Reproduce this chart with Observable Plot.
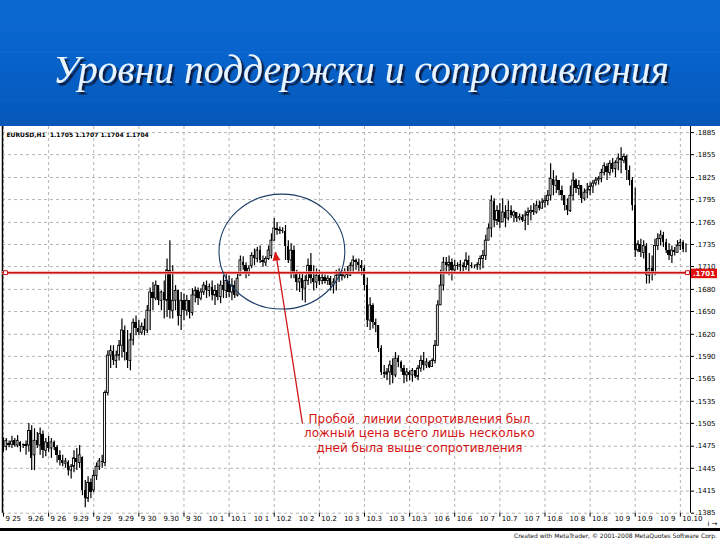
<!DOCTYPE html>
<html><head><meta charset="utf-8">
<script src="https://cdn.jsdelivr.net/npm/d3@7"></script>
<script src="https://cdn.jsdelivr.net/npm/@observablehq/plot@0.6"></script>
<style>
html,body{margin:0;padding:0;background:#fff;}
#wrap{width:720px;height:540px;position:relative;overflow:hidden;font-family:"DejaVu Sans",sans-serif;}
#header{height:126px;background:linear-gradient(180deg,#0a69d0 0%,#0763cb 45%,#0557b8 100%);}
#chart{height:402px;background:#fff;}
#footer{height:9px;border-top:3px solid #000;background:#fff;font-size:6px;line-height:9px;text-align:right;padding-right:3px;color:#111;}
</style></head>
<body>
<div id="wrap">
  <div id="header"></div>
  <div id="chart"></div>
  <div id="footer"></div>
</div>
<script>
const titleText = "Уровни поддержки и сопротивления";
const footerText = "Created with MetaTrader, © 2001-2008 MetaQuotes Software Corp.";
const infoText = "EURUSD,H1  1.1705 1.1707 1.1704 1.1704";
const noteLines = ["Пробой  линии сопротивления был", "ложный цена всего лишь несколько", "дней была выше сопротивления"];

const xLabels = ["9 25","9.26","9 26","9.29","9 29","9.29","9 30","9.30","9 30","10 1","10.1","10 1","10.2","10 2","10.2","10 3","10.3","10 3","10.3","10 6","10.6","10 7","10.7","10 7","10.8","10 8","10.8","10 9","10.9","10 9","10.10"];
const yTickValues = [1.1385,1.1414,1.1444,1.1473,1.1503,1.1532,1.1562,1.1591,1.1620,1.1650,1.1679,1.1709,1.1738,1.1767,1.1797,1.1826,1.1856,1.1885];
const yTickLabels = [".1385",".1415",".1445",".1475",".1505",".1535",".1565",".1590",".1620",".1650",".1680",".1710",".1735",".1765",".1795",".1825",".1855",".1885"];
const supportLevel = 1.1701;
const supportLabel = ".1701";
const ellipseCenter = [98.9, 1.1728];
const ellipseRadii = [22.3, 0.00755];
const arrowFrom = [106.0, 1.1503];
const arrowTo = [96.5, 1.1728];
const notePos = [147.5, 1.1491];

const open = [
1.1479,1.1472,1.1476,1.1475,1.1480,1.1474,1.1478,1.1475,1.1475,1.1474,1.1493,1.1461,1.1480,1.1474,1.1489,1.1467,
1.1478,1.1470,1.1478,1.1471,1.1461,1.1454,1.1450,1.1451,1.1441,1.1446,1.1457,1.1451,1.1458,1.1415,1.1404,1.1425,
1.1415,1.1434,1.1446,1.1453,1.1451,1.1543,1.1592,1.1598,1.1585,1.1592,1.1605,1.1625,1.1596,1.1585,1.1612,1.1635,
1.1627,1.1622,1.1630,1.1625,1.1651,1.1675,1.1667,1.1684,1.1664,1.1675,1.1664,1.1704,1.1651,1.1664,1.1677,1.1644,
1.1664,1.1651,1.1664,1.1648,1.1671,1.1677,1.1667,1.1675,1.1684,1.1677,1.1682,1.1671,1.1677,1.1669,1.1684,1.1677,
1.1690,1.1675,1.1684,1.1671,1.1697,1.1714,1.1710,1.1701,1.1710,1.1723,1.1719,1.1730,1.1717,1.1714,1.1719,1.1723,
1.1743,1.1759,1.1756,1.1757,1.1755,1.1736,1.1717,1.1730,1.1700,1.1688,1.1693,1.1680,1.1690,1.1710,1.1693,1.1688,
1.1697,1.1690,1.1694,1.1690,1.1693,1.1684,1.1688,1.1697,1.1701,1.1696,1.1701,1.1697,1.1710,1.1717,1.1714,1.1710,
1.1706,1.1684,1.1638,1.1658,1.1635,1.1631,1.1601,1.1570,1.1567,1.1570,1.1579,1.1566,1.1588,1.1583,1.1575,1.1566,
1.1570,1.1566,1.1572,1.1564,1.1575,1.1585,1.1579,1.1583,1.1577,1.1585,1.1605,1.1658,1.1684,1.1714,1.1710,1.1714,
1.1704,1.1710,1.1709,1.1711,1.1708,1.1717,1.1710,1.1709,1.1709,1.1711,1.1719,1.1723,1.1743,1.1759,1.1795,1.1769,
1.1782,1.1767,1.1780,1.1772,1.1782,1.1776,1.1780,1.1772,1.1774,1.1769,1.1776,1.1780,1.1782,1.1780,1.1789,1.1785,
1.1793,1.1795,1.1802,1.1824,1.1815,1.1822,1.1809,1.1802,1.1789,1.1782,1.1802,1.1822,1.1811,1.1815,1.1798,1.1806,
1.1809,1.1814,1.1818,1.1822,1.1824,1.1832,1.1841,1.1832,1.1844,1.1837,1.1845,1.1851,1.1848,1.1853,1.1835,1.1822,
1.1789,1.1730,1.1738,1.1727,1.1736,1.1697,1.1706,1.1701,1.1736,1.1745,1.1750,1.1740,1.1730,1.1723,1.1730,1.1727,
1.1736,1.1740,1.1732];
const high = [
1.1484,1.1483,1.1480,1.1486,1.1483,1.1487,1.1479,1.1476,1.1480,1.1503,1.1500,1.1496,1.1491,1.1497,1.1493,1.1483,
1.1486,1.1483,1.1480,1.1474,1.1467,1.1461,1.1457,1.1454,1.1449,1.1467,1.1470,1.1474,1.1459,1.1428,1.1433,1.1430,
1.1441,1.1451,1.1457,1.1461,1.1546,1.1598,1.1605,1.1605,1.1598,1.1612,1.1640,1.1631,1.1625,1.1621,1.1640,1.1644,
1.1638,1.1635,1.1640,1.1658,1.1681,1.1688,1.1690,1.1684,1.1677,1.1690,1.1719,1.1743,1.1710,1.1684,1.1677,1.1675,
1.1673,1.1671,1.1664,1.1680,1.1682,1.1681,1.1680,1.1688,1.1690,1.1686,1.1690,1.1684,1.1686,1.1690,1.1697,1.1700,
1.1697,1.1693,1.1690,1.1701,1.1723,1.1722,1.1714,1.1710,1.1727,1.1732,1.1734,1.1736,1.1723,1.1722,1.1736,1.1752,
1.1772,1.1767,1.1761,1.1760,1.1763,1.1743,1.1739,1.1736,1.1704,1.1701,1.1700,1.1697,1.1719,1.1726,1.1710,1.1706,
1.1704,1.1700,1.1698,1.1697,1.1696,1.1693,1.1704,1.1706,1.1704,1.1706,1.1709,1.1714,1.1723,1.1719,1.1719,1.1717,
1.1710,1.1694,1.1668,1.1660,1.1640,1.1631,1.1605,1.1579,1.1575,1.1585,1.1588,1.1596,1.1592,1.1585,1.1579,1.1575,
1.1572,1.1575,1.1572,1.1579,1.1592,1.1596,1.1588,1.1585,1.1588,1.1612,1.1664,1.1704,1.1721,1.1721,1.1723,1.1719,
1.1717,1.1714,1.1717,1.1714,1.1727,1.1723,1.1714,1.1711,1.1714,1.1723,1.1730,1.1750,1.1765,1.1802,1.1798,1.1789,
1.1792,1.1798,1.1789,1.1795,1.1789,1.1782,1.1780,1.1778,1.1777,1.1782,1.1786,1.1789,1.1792,1.1795,1.1795,1.1798,
1.1802,1.1809,1.1844,1.1835,1.1828,1.1822,1.1815,1.1802,1.1798,1.1815,1.1832,1.1824,1.1822,1.1815,1.1811,1.1818,
1.1819,1.1822,1.1826,1.1827,1.1837,1.1845,1.1844,1.1848,1.1851,1.1848,1.1857,1.1865,1.1857,1.1855,1.1841,1.1826,
1.1812,1.1743,1.1745,1.1743,1.1739,1.1726,1.1723,1.1745,1.1752,1.1756,1.1754,1.1745,1.1739,1.1736,1.1734,1.1743,
1.1745,1.1743,1.1739];
const low = [
1.1465,1.1467,1.1471,1.1470,1.1472,1.1471,1.1465,1.1470,1.1461,1.1465,1.1441,1.1441,1.1470,1.1461,1.1457,1.1459,
1.1465,1.1457,1.1467,1.1451,1.1447,1.1446,1.1444,1.1434,1.1430,1.1438,1.1441,1.1444,1.1408,1.1392,1.1399,1.1404,
1.1412,1.1428,1.1441,1.1444,1.1446,1.1539,1.1575,1.1579,1.1575,1.1585,1.1589,1.1585,1.1575,1.1572,1.1605,1.1618,
1.1618,1.1619,1.1618,1.1621,1.1625,1.1651,1.1664,1.1658,1.1651,1.1640,1.1642,1.1640,1.1640,1.1651,1.1631,1.1625,
1.1638,1.1644,1.1640,1.1644,1.1661,1.1658,1.1664,1.1671,1.1667,1.1669,1.1664,1.1658,1.1664,1.1660,1.1667,1.1667,
1.1668,1.1664,1.1667,1.1669,1.1697,1.1704,1.1693,1.1696,1.1706,1.1710,1.1714,1.1713,1.1708,1.1709,1.1717,1.1719,
1.1743,1.1750,1.1751,1.1752,1.1717,1.1713,1.1693,1.1693,1.1677,1.1675,1.1664,1.1661,1.1684,1.1686,1.1677,1.1680,
1.1684,1.1685,1.1686,1.1684,1.1677,1.1673,1.1677,1.1688,1.1690,1.1693,1.1693,1.1696,1.1701,1.1704,1.1701,1.1697,
1.1677,1.1629,1.1625,1.1627,1.1622,1.1596,1.1566,1.1562,1.1559,1.1553,1.1555,1.1563,1.1576,1.1570,1.1555,1.1557,
1.1559,1.1557,1.1562,1.1559,1.1570,1.1572,1.1575,1.1575,1.1577,1.1581,1.1605,1.1658,1.1677,1.1701,1.1697,1.1690,
1.1701,1.1704,1.1701,1.1702,1.1704,1.1700,1.1706,1.1706,1.1704,1.1704,1.1706,1.1717,1.1743,1.1747,1.1760,1.1763,
1.1759,1.1767,1.1760,1.1769,1.1772,1.1767,1.1767,1.1769,1.1767,1.1756,1.1763,1.1769,1.1776,1.1778,1.1782,1.1785,
1.1786,1.1789,1.1795,1.1802,1.1805,1.1802,1.1795,1.1782,1.1776,1.1780,1.1795,1.1805,1.1802,1.1792,1.1795,1.1798,
1.1802,1.1805,1.1815,1.1816,1.1819,1.1828,1.1822,1.1828,1.1832,1.1826,1.1835,1.1831,1.1844,1.1822,1.1815,1.1782,
1.1721,1.1727,1.1721,1.1719,1.1686,1.1686,1.1690,1.1697,1.1730,1.1736,1.1734,1.1726,1.1717,1.1713,1.1723,1.1727,
1.1730,1.1727,1.1727];
const close = [
1.1470,1.1480,1.1474,1.1479,1.1474,1.1480,1.1472,1.1474,1.1472,1.1493,1.1457,1.1480,1.1474,1.1489,1.1467,1.1478,
1.1470,1.1478,1.1471,1.1461,1.1454,1.1450,1.1453,1.1441,1.1446,1.1457,1.1451,1.1461,1.1415,1.1404,1.1425,1.1412,
1.1434,1.1446,1.1453,1.1451,1.1543,1.1592,1.1598,1.1585,1.1592,1.1605,1.1625,1.1596,1.1585,1.1612,1.1635,1.1627,
1.1622,1.1630,1.1625,1.1651,1.1675,1.1667,1.1684,1.1664,1.1675,1.1664,1.1704,1.1651,1.1664,1.1677,1.1644,1.1664,
1.1651,1.1664,1.1648,1.1671,1.1677,1.1667,1.1675,1.1684,1.1677,1.1682,1.1671,1.1677,1.1669,1.1684,1.1677,1.1690,
1.1675,1.1684,1.1671,1.1693,1.1717,1.1710,1.1701,1.1706,1.1723,1.1719,1.1730,1.1717,1.1714,1.1719,1.1730,1.1743,
1.1759,1.1756,1.1757,1.1755,1.1736,1.1717,1.1730,1.1700,1.1688,1.1693,1.1680,1.1690,1.1710,1.1693,1.1688,1.1697,
1.1690,1.1694,1.1690,1.1693,1.1684,1.1688,1.1697,1.1701,1.1696,1.1701,1.1697,1.1710,1.1717,1.1714,1.1710,1.1706,
1.1684,1.1638,1.1658,1.1635,1.1631,1.1601,1.1570,1.1567,1.1570,1.1579,1.1566,1.1588,1.1583,1.1575,1.1566,1.1570,
1.1566,1.1572,1.1564,1.1575,1.1585,1.1579,1.1583,1.1577,1.1585,1.1605,1.1658,1.1684,1.1714,1.1710,1.1714,1.1704,
1.1710,1.1709,1.1711,1.1708,1.1717,1.1710,1.1709,1.1709,1.1711,1.1719,1.1723,1.1743,1.1759,1.1795,1.1769,1.1782,
1.1767,1.1780,1.1772,1.1782,1.1776,1.1780,1.1772,1.1774,1.1769,1.1776,1.1780,1.1782,1.1780,1.1789,1.1785,1.1793,
1.1795,1.1802,1.1824,1.1815,1.1822,1.1809,1.1802,1.1789,1.1782,1.1802,1.1822,1.1811,1.1815,1.1798,1.1806,1.1809,
1.1814,1.1818,1.1822,1.1824,1.1832,1.1841,1.1832,1.1844,1.1837,1.1845,1.1851,1.1848,1.1853,1.1835,1.1822,1.1789,
1.1730,1.1738,1.1727,1.1736,1.1697,1.1706,1.1701,1.1736,1.1745,1.1750,1.1740,1.1730,1.1723,1.1730,1.1727,1.1736,
1.1740,1.1732,1.1732];

// ---------- header (title) ----------
const hdr = d3.select("#header").append("svg").attr("width", 720).attr("height", 126);
const defs = hdr.append("defs");
defs.append("filter").attr("id", "tshadow").attr("x", "-5%").attr("y", "-30%").attr("width", "110%").attr("height", "160%")
  .append("feDropShadow").attr("dx", 2.5).attr("dy", 2.5).attr("stdDeviation", 0.4)
  .attr("flood-color", "#0a1d40").attr("flood-opacity", 1);
[30, 52, 100].forEach(y => hdr.append("line").attr("x1", 0).attr("x2", 720).attr("y1", y).attr("y2", y)
  .attr("stroke", "rgba(255,255,255,0.05)"));
hdr.append("text").attr("x", 361).attr("y", 83).attr("text-anchor", "middle")
  .attr("font-family", "'Liberation Serif', serif").attr("font-style", "italic").attr("font-size", 40)
  .attr("textLength", 616).attr("lengthAdjust", "spacingAndGlyphs")
  .attr("fill", "#e8f4ff").attr("filter", "url(#tshadow)").text(titleText);
d3.select("#footer").text(footerText);

// ---------- chart ----------
const bars = open.map((o, i) => ({i, open: o, high: high[i], low: low[i], close: close[i]}));
const nBars = bars.length;
const xDomain = [-0.35, 243.6];
const gridIdx = d3.range(0, nBars, 16);
const labelIdx = xLabels.map((_, k) => k * 8);
const gridStyle = {stroke: "#b4b4b4", strokeOpacity: 1, strokeDasharray: "3,3", strokeWidth: 1};

const plot = Plot.plot({
  width: 720, height: 402,
  marginLeft: 2, marginRight: 30, marginTop: 0, marginBottom: 15.3,
  x: {type: "linear", domain: xDomain, axis: null},
  y: {domain: [1.1385, 1.1893], axis: null},
  style: {background: "transparent", fontFamily: "DejaVu Sans, sans-serif", fontSize: "7px", color: "#000"},
  marks: [
    Plot.gridY(yTickValues, gridStyle),
    Plot.gridX(gridIdx, gridStyle),
    Plot.ruleX([xDomain[0]], {stroke: "#000", strokeWidth: 1.5}),
    Plot.ruleX([xDomain[1]], {stroke: "#000", strokeWidth: 1}),
    Plot.axisY(yTickValues, {anchor: "right", tickSize: 3, tickPadding: 2, fontSize: 7,
      tickFormat: d => yTickLabels[yTickValues.indexOf(d)]}),
    Plot.axisX(gridIdx, {anchor: "bottom", tickSize: 4, tickFormat: () => ""}),
    Plot.text(labelIdx, {x: d => d, frameAnchor: "bottom", dy: 8, dx: 2, textAnchor: "start",
      text: (d, k) => xLabels[k], fontSize: 7, fill: "#000"}),
    Plot.text([infoText], {frameAnchor: "top-left", dx: 4, dy: 6, fontSize: 6, fill: "#000", fontWeight: "bold"}),
    Plot.ruleX(bars, {x: "i", y1: "low", y2: "high", stroke: "#000", strokeWidth: 1.2}),
    Plot.rect(bars.filter(d => d.close < d.open), {x1: d => d.i - 0.4, x2: d => d.i + 0.4, y1: "open", y2: "close",
      fill: "#000", shapeRendering: "crispEdges"}),
    Plot.rect(bars.filter(d => d.close >= d.open), {x1: d => d.i - 0.33, x2: d => d.i + 0.33, y1: "open", y2: "close",
      fill: "#fff", stroke: "#000", strokeWidth: 0.9}),
    Plot.ruleY([supportLevel], {stroke: "#f3b0b0", strokeWidth: 3}),
    Plot.ruleY([supportLevel], {stroke: "#c81414", strokeWidth: 1.5}),
    Plot.dot([supportLevel], {y: d => d, frameAnchor: "left", dx: 3, symbol: "square", r: 2.2, stroke: "#c81414", fill: "#fff", strokeWidth: 1}),
    Plot.dot([supportLevel], {y: d => d, frameAnchor: "right", dx: -3, symbol: "square", r: 2.2, stroke: "#c81414", fill: "#fff", strokeWidth: 1}),
    Plot.link([{a: arrowFrom, b: arrowTo}], {x1: d => d.a[0], y1: d => d.a[1], x2: d => d.b[0], y2: d => d.b[1],
      stroke: "#d01818", strokeWidth: 1.3}),
    Plot.text([noteLines.join("\n")], {x: notePos[0], y: notePos[1], text: d => d, fill: "#d41515",
      fontSize: 12, lineHeight: 1.2, textAnchor: "middle", fontFamily: "DejaVu Sans, sans-serif"})
  ]
});
document.getElementById("chart").appendChild(plot);

// annotations projected through the plot's scales
const sx = plot.scale("x"), sy = plot.scale("y");
const svg = d3.select(plot);
const cx = sx.apply(ellipseCenter[0]), cy = sy.apply(ellipseCenter[1]);
svg.append("ellipse").attr("cx", cx).attr("cy", cy)
  .attr("rx", sx.apply(ellipseCenter[0] + ellipseRadii[0]) - cx)
  .attr("ry", cy - sy.apply(ellipseCenter[1] + ellipseRadii[1]))
  .attr("fill", "none").attr("stroke", "#1b3b66").attr("stroke-width", 1.1);
// filled arrow head
const ax = sx.apply(arrowTo[0]), ay = sy.apply(arrowTo[1]);
const bx = sx.apply(arrowFrom[0]), by = sy.apply(arrowFrom[1]);
const ang = Math.atan2(ay - by, ax - bx);
const L = 9, W = 4;
const p1 = [ax - L * Math.cos(ang) + W * Math.sin(ang), ay - L * Math.sin(ang) - W * Math.cos(ang)];
const p2 = [ax - L * Math.cos(ang) - W * Math.sin(ang), ay - L * Math.sin(ang) + W * Math.cos(ang)];
svg.append("polygon").attr("points", [[ax, ay], p1, p2].map(p => p.join(",")).join(" ")).attr("fill", "#e01818");
// price label on the right axis, just below the .1710 tick label
const ry = sy.apply(supportLevel);
const rx0 = sx.apply(xDomain[1]) + 1;
svg.append("rect").attr("x", rx0).attr("y", ry - 3.5).attr("width", 26).attr("height", 9.5).attr("fill", "#e01010");
svg.append("text").attr("x", rx0 + 13).attr("y", ry + 3.5).attr("text-anchor", "middle")
  .attr("font-family", "DejaVu Sans, sans-serif").attr("font-size", 7).attr("font-weight", "bold")
  .attr("fill", "#fff").text(supportLabel);
</script>
</body></html>
